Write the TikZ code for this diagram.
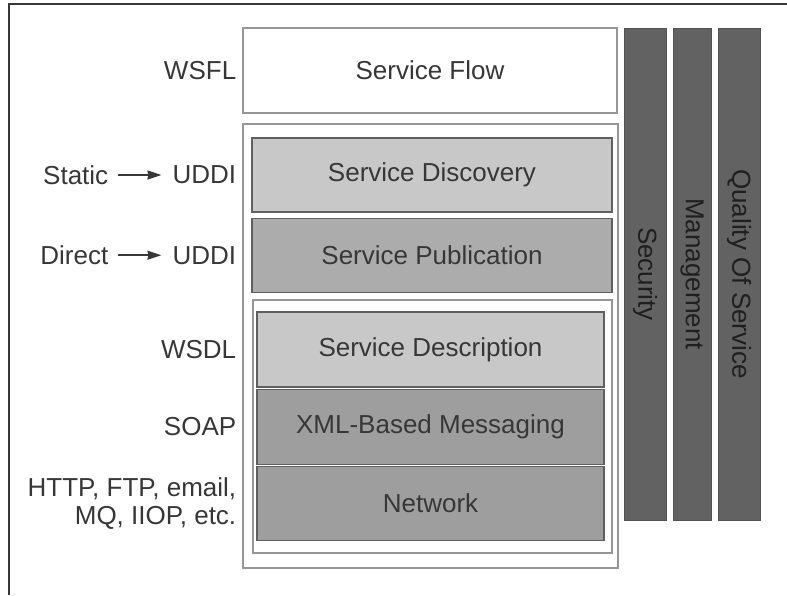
\documentclass[tikz,border=0pt]{standalone}
\usepackage{fontspec}
\setmainfont{Liberation Sans}
\usetikzlibrary{positioning,arrows.meta}
\definecolor{ink}{RGB}{55,55,55}
\definecolor{rim}{RGB}{150,150,150}
\definecolor{edge}{RGB}{95,95,95}
\definecolor{pale}{RGB}{200,200,200}
\definecolor{mid}{RGB}{172,172,172}
\definecolor{deep}{RGB}{158,158,158}
\definecolor{slab}{RGB}{98,98,98}
\newcommand{\bigtxt}{\fontsize{26}{28}\selectfont}
\tikzset{
  layer/.style={draw=edge,line width=1.2pt,fill=pale,inner sep=0pt,
    minimum width=360pt,minimum height=74pt,text=ink,font=\bigtxt},
  shell/.style={draw=rim,line width=1.2pt,inner sep=0pt},
  side/.style={inner sep=0pt,text=ink,align=right,font=\bigtxt},
  bar/.style={draw=slab!85!black,fill=slab,rotate=-90,inner sep=0pt,
    minimum width=492pt,minimum height=42pt,text=black!88,font=\bigtxt},
  arr/.style={-{Stealth[length=14pt,width=9pt,inset=1pt]},line width=1.6pt,
    draw=ink},
  frame/.style={line width=2pt,draw=ink},
}
\begin{document}
\begin{tikzpicture}[x=1pt,y=-1pt]
  \useasboundingbox (0,0) rectangle (787,595);
  \draw[frame] (9,595) -- (9,4) -- (787,4);

  % top layer
  \node[layer,fill=white,draw=rim,minimum width=374pt,minimum height=85pt]
    (flow) at (430,70.5) {Service Flow};
  \node[side,left=6pt of flow] (wsfl) {WSFL};

  % registry part
  \node[shell,minimum width=375pt,minimum height=444pt] (grp) at (430.5,346) {};
  \node[layer] (disc) at (432,175) {Service Discovery};
  \node[layer,fill=mid,below=5pt of disc] (publ) {Service Publication};

  % description part
  \node[shell,minimum width=359pt,minimum height=253pt] (core) at (432.5,426.5) {};
  \node[layer,minimum width=347pt,minimum height=75pt] (desc) at (430.5,349.5)
    {Service Description};
  \node[layer,fill=deep,minimum width=347pt,minimum height=75pt,
    below=1pt of desc] (msg) {XML-Based Messaging};
  \node[layer,fill=deep,minimum width=347pt,minimum height=74pt,
    below=1pt of msg] (net) {Network};

  % left labels
  \node[side,left=15pt of disc] (uddia) {UDDI};
  \node[side,left=64pt of uddia] (static) {Static};
  \draw[arr,shorten <=10pt,shorten >=11pt] (static) -- (uddia);
  \node[side,left=15pt of publ] (uddib) {UDDI};
  \node[side,left=64pt of uddib] (direct) {Direct};
  \draw[arr,shorten <=10pt,shorten >=11pt] (direct) -- (uddib);
  \node[side,left=20pt of desc] (wsdl) {WSDL};
  \node[side,left=20pt of msg] (soap) {SOAP};
  \node[side,left=20pt of net] (proto) {HTTP, FTP, email,\\MQ, IIOP, etc.};

  % vertical bars
  \node[bar] (sec) at (645,274) {Security};
  \node[bar,minimum height=38pt] (mgmt) at (692,274) {Management};
  \node[bar] (qos) at (739,274) {Quality Of Service};
\end{tikzpicture}
\end{document}
